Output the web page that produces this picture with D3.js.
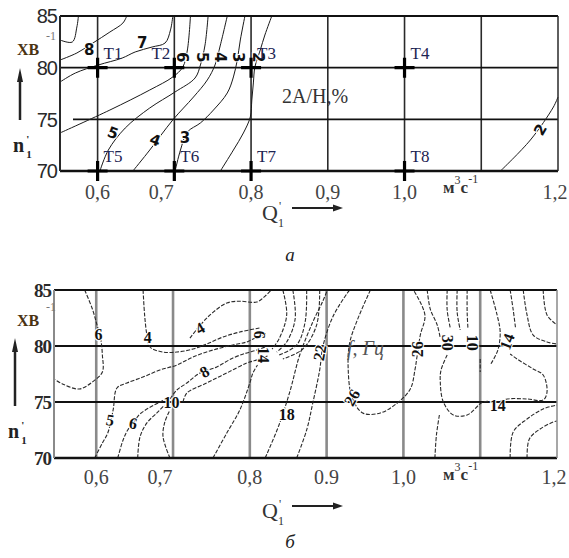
<!DOCTYPE html>
<html>
<head>
<meta charset="utf-8">
<script src="https://cdn.jsdelivr.net/npm/d3@7"></script>
<style>
  body { margin: 0; background: #fff; }
  #chart { width: 569px; height: 558px; }
  .serif { font-family: "Liberation Serif", "DejaVu Serif", serif; }
</style>
</head>
<body>
<div id="chart"></div>
<script>
// axis values shared by both panels
let qTicks = [0.6, 0.7, 0.8, 0.9, 1.0, 1.1, 1.2]
let qTickLabelsA = ["0,6", "0,7", "0,8", "0,9", "1,0", "", "1,2"]
let qTickLabelsB = ["0,6", "0,7", "0,8", "0.9", "1,0", "", "1,2"]
let nTicks = [70, 75, 80, 85]
let nTickLabels = ["70", "75", "80", "85"]

// test points T1..T8 (Q'1, n'1)
let testNames = ["T1", "T2", "T3", "T4", "T5", "T6", "T7", "T8"]
let testQ = [0.6, 0.7, 0.8, 1.0, 0.6, 0.7, 0.8, 1.0]
let testN = [80, 80, 80, 80, 70, 70, 70, 70]

// panel a: 2A/H, % isolines, [Q'1, n'1] pairs
let ampContours = [
    [[0.551, 82.68], [0.567, 82.48], [0.573, 83.94], [0.575, 85]],
    [[0.551, 80.74], [0.573, 81.42], [0.594, 82.39], [0.616, 83.45], [0.633, 84.32], [0.638, 85]],
    [[0.551, 78.61], [0.571, 79.48], [0.601, 80.26], [0.632, 80.93], [0.649, 81.52], [0.671, 82.0], [0.688, 82.39], [0.695, 83.65], [0.698, 85]],
    [[0.551, 73.68], [0.616, 75.9], [0.668, 77.84], [0.698, 79.1], [0.711, 80.06], [0.717, 81.71], [0.721, 85]],
    [[0.603, 70], [0.614, 72.03], [0.636, 74.16], [0.668, 76.1], [0.701, 77.65], [0.727, 79.0], [0.734, 80.26], [0.74, 82.19], [0.744, 85]],
    [[0.646, 70], [0.668, 72.03], [0.698, 74.94], [0.725, 77.16], [0.743, 78.81], [0.753, 80.26], [0.76, 82.19], [0.769, 85]],
    [[0.701, 70], [0.708, 72.03], [0.717, 73.77], [0.734, 74.65], [0.751, 75.9], [0.769, 77.55], [0.777, 79.1], [0.782, 80.74], [0.786, 82.68], [0.792, 85]],
    [[0.76, 70], [0.777, 72.03], [0.79, 73.68], [0.799, 75.23], [0.801, 76.87], [0.803, 78.52], [0.805, 80.06], [0.812, 81.71], [0.818, 83.16], [0.827, 85]],
    [[1.125, 70], [1.164, 73.0], [1.194, 76.19], [1.2, 77.16]]
]
let ampLabelText = ["8", "7", "6", "5", "4", "3", "2", "5", "4", "3", "2"]
let ampLabelQ = [0.589, 0.658, 0.71, 0.736, 0.76, 0.783, 0.809, 0.62, 0.675, 0.714, 1.177]
let ampLabelN = [81.7, 82.4, 81.0, 81.0, 81.0, 81.0, 81.0, 73.7, 73.0, 73.2, 74.0]
let ampLabelRot = [0, 0, 90, 90, 90, 90, 90, 20, 20, 0, -60]

// panel б: f, Гц isolines
let freqContours = [
    [[0.585, 85], [0.595, 83.3], [0.601, 81.88], [0.606, 80.54], [0.608, 79.2], [0.608, 77.68], [0.595, 76.79], [0.578, 76.16], [0.556, 76.61], [0.545, 77.05]],
    [[0.661, 85], [0.663, 82.77], [0.666, 80.98], [0.67, 79.91], [0.687, 79.46], [0.705, 79.46], [0.726, 79.73], [0.744, 80.18], [0.765, 80.8], [0.787, 81.25], [0.813, 81.61]],
    [[0.722, 80.71], [0.739, 82.14], [0.752, 83.0], [0.77, 83.84], [0.787, 84.0], [0.809, 83.93], [0.82, 84.46], [0.828, 85]],
    [[0.598, 70], [0.608, 71.34], [0.615, 72.23], [0.622, 74.29], [0.627, 76.25], [0.64, 76.7], [0.661, 77.23], [0.683, 77.86], [0.705, 78.3], [0.726, 79.02], [0.752, 79.64], [0.778, 80.09], [0.796, 80.36], [0.809, 80.8], [0.823, 81.16]],
    [[0.696, 75.27], [0.705, 76.07], [0.718, 76.7], [0.735, 77.59], [0.757, 78.13], [0.778, 78.93], [0.796, 79.38], [0.809, 79.64], [0.823, 80.0]],
    [[0.713, 75.0], [0.718, 75.8], [0.744, 76.7], [0.77, 77.59], [0.796, 78.48], [0.809, 78.75], [0.823, 79.11]],
    [[0.628, 70], [0.635, 71.61], [0.641, 72.5], [0.648, 73.1], [0.657, 73.93], [0.683, 75.0], [0.696, 75.4]],
    [[0.654, 70], [0.657, 71.88], [0.666, 73.13], [0.679, 74.02], [0.689, 74.73]],
    [[0.696, 70], [0.687, 71.88], [0.689, 73.13], [0.696, 74.29]],
    [[0.752, 70], [0.77, 72.23], [0.787, 74.29], [0.8, 76.7], [0.804, 77.59], [0.81, 78.3]],
    [[0.82, 70], [0.838, 72.95], [0.852, 75.89], [0.865, 79.2], [0.882, 82.14], [0.895, 84.0], [0.901, 85]],
    [[0.861, 70], [0.874, 72.5], [0.882, 74.91], [0.891, 77.86], [0.895, 79.91], [0.908, 82.59], [0.927, 84.73], [0.93, 85]],
    [[0.957, 85], [0.94, 82.32], [0.93, 80.27], [0.928, 78.13], [0.933, 75.45], [0.947, 74.02], [0.97, 74.02], [0.992, 74.91], [1.009, 76.16], [1.015, 77.86], [1.018, 79.2], [1.022, 80.98], [1.028, 82.77], [1.013, 85]],
    [[0.843, 85], [0.848, 82.77], [0.838, 80.63], [0.829, 79.73]],
    [[0.856, 85], [0.859, 82.41], [0.848, 80.36], [0.835, 79.46]],
    [[0.874, 85], [0.872, 82.14], [0.861, 80.09], [0.838, 79.2]],
    [[0.891, 85], [0.887, 81.88], [0.869, 79.73], [0.843, 78.84]],
    [[1.031, 85], [1.035, 83.3], [1.044, 81.88], [1.048, 80.71]],
    [[1.057, 85], [1.057, 83.21], [1.061, 81.61]],
    [[1.07, 85], [1.07, 83.0], [1.074, 81.43]],
    [[1.083, 85], [1.083, 83.0], [1.084, 81.61]],
    [[1.113, 85], [1.122, 82.77], [1.126, 81.25], [1.123, 79.64], [1.113, 78.3]],
    [[1.1, 78.84], [1.1, 77.68]],
    [[1.057, 79.2], [1.049, 77.86], [1.048, 76.79], [1.052, 75.0], [1.065, 73.84], [1.083, 73.84], [1.104, 75.0], [1.123, 75.0], [1.135, 75.27], [1.161, 75.27], [1.182, 75.18], [1.187, 75.89], [1.182, 77.41], [1.169, 77.95], [1.148, 78.84], [1.139, 79.29]],
    [[1.156, 85], [1.161, 82.77], [1.169, 80.98], [1.187, 80.36], [1.2, 80.18]],
    [[1.182, 85], [1.187, 82.77], [1.2, 81.88]],
    [[1.139, 85], [1.143, 83.21], [1.146, 81.6]],
    [[1.139, 70], [1.143, 72.32], [1.161, 73.48], [1.182, 74.38], [1.2, 74.73]],
    [[1.161, 70], [1.164, 71.7], [1.178, 72.59], [1.195, 73.21], [1.2, 73.3]],
    [[1.041, 70], [1.043, 72.05], [1.047, 73.9]]
]
let freqLabelText = ["6", "4", "4", "5", "6", "8", "10", "6", "14", "18", "22", "26", "26", "30", "10", "14", "14"]
let freqLabelQ = [0.603, 0.667, 0.735, 0.618, 0.648, 0.741, 0.698, 0.813, 0.818, 0.848, 0.891, 0.933, 1.018, 1.058, 1.09, 1.135, 1.123]
let freqLabelN = [81.0, 80.8, 81.6, 73.4, 73.1, 77.7, 75.0, 81.0, 79.2, 73.9, 79.4, 75.4, 79.7, 80.3, 80.3, 80.4, 74.7]
let freqLabelRot = [0, 0, -30, 10, 10, -30, 0, 90, 90, 0, -80, -60, -90, 90, 90, -70, 0]

class ContourPanel {
    constructor(svg, opts) {
        this.svg = svg
        this.opts = opts
        this.initVis()
    }

    initVis() {
        let vis = this
        let o = vis.opts

        vis.x = d3.scaleLinear().domain(o.qDomain).range([o.left, o.right])
        vis.y = d3.scaleLinear().domain([70, 85]).range([o.bottom, o.top])
        vis.g = vis.svg.append("g")

        vis.updateVis()
    }

    updateVis() {
        let vis = this
        let o = vis.opts

        // grid
        vis.g.selectAll(".vgrid")
            .data(qTicks.slice(0, -1))
            .enter().append("line")
            .attr("x1", d => vis.x(d)).attr("x2", d => vis.x(d))
            .attr("y1", o.top).attr("y2", o.bottom)
            .attr("stroke", o.vColor).attr("stroke-width", o.vWidth)

        vis.g.selectAll(".hgrid")
            .data([75, 80])
            .enter().append("line")
            .attr("x1", d => d == 75 ? o.left + o.h75inset : o.left).attr("x2", o.right)
            .attr("y1", d => vis.y(d)).attr("y2", d => vis.y(d))
            .attr("stroke", "#111").attr("stroke-width", o.hWidth)

        // contours
        let line = d3.line()
            .x(d => vis.x(d[0]))
            .y(d => vis.y(d[1]))
            .curve(d3.curveCatmullRom.alpha(0.5))

        vis.g.selectAll(".iso")
            .data(o.contours)
            .enter().append("path")
            .attr("d", line)
            .attr("fill", "none")
            .attr("stroke", o.isoColor)
            .attr("stroke-width", o.isoWidth)
            .attr("stroke-dasharray", o.isoDash)

        // frame
        vis.g.append("line").attr("x1", o.left).attr("x2", o.right).attr("y1", o.top).attr("y2", o.top)
            .attr("stroke", "#111").attr("stroke-width", 2)
        vis.g.append("line").attr("x1", o.left).attr("x2", o.right).attr("y1", o.bottom).attr("y2", o.bottom)
            .attr("stroke", "#111").attr("stroke-width", 2.5)
        vis.g.append("line").attr("x1", o.left).attr("x2", o.left).attr("y1", o.top).attr("y2", o.bottom)
            .attr("stroke", o.vColor).attr("stroke-width", 2)
        vis.g.append("line").attr("x1", o.right).attr("x2", o.right).attr("y1", o.top).attr("y2", o.bottom)
            .attr("stroke", o.vColor).attr("stroke-width", 1.5)

        // isoline labels
        vis.g.selectAll(".isolabel")
            .data(o.labelText)
            .enter().append("text")
            .attr("transform", (d, i) => `translate(${vis.x(o.labelQ[i])},${vis.y(o.labelN[i])}) rotate(${o.labelRot[i]})`)
            .attr("text-anchor", "middle").attr("dy", "0.35em")
            .attr("font-family", o.labelFont).attr("font-weight", "bold")
            .attr("font-size", o.labelSize)
            .attr("fill", "#111")
            .attr("stroke", "#fff").attr("stroke-width", 2).attr("paint-order", "stroke")
            .text(d => d)

        // y tick labels
        vis.g.selectAll(".ytick")
            .data(nTicks)
            .enter().append("text")
            .attr("x", o.left - 3).attr("y", d => vis.y(d)).attr("dy", "0.36em")
            .attr("text-anchor", "end")
            .attr("font-family", o.yFont).attr("font-size", o.ySize).attr("font-weight", o.yWeight)
            .attr("letter-spacing", "-1")
            .attr("fill", "#2a2a2a")
            .text((d, i) => nTickLabels[i])

        // x tick labels
        vis.g.selectAll(".xtick")
            .data(qTicks)
            .enter().append("text")
            .attr("class", "serif")
            .attr("x", d => vis.x(d) - (d == 0.7 ? 13 : 0) - (d == 1.2 ? 3 : 0))
            .attr("y", o.bottom + o.xTickOffset)
            .attr("text-anchor", "middle")
            .attr("font-size", 20).attr("fill", "#444")
            .text((d, i) => o.qLabels[i])

        // units, axis names, arrows
        let u = vis.g.append("text").attr("class", "serif").attr("x", 443).attr("y", o.bottom + 22)
            .attr("font-size", 17).attr("fill", "#333").attr("font-weight", "bold")
        u.append("tspan").text("м")
        u.append("tspan").attr("dy", -9).attr("font-size", 12).attr("font-weight", "normal").text("3")
        u.append("tspan").attr("dy", 9).text("с")
        u.append("tspan").attr("dy", -10).attr("font-size", 12).attr("font-weight", "normal").text("-1")

        let qy = o.bottom + o.qOffset
        let q = vis.g.append("text").attr("class", "serif").attr("x", 262).attr("y", qy)
            .attr("font-size", 22).attr("fill", "#333")
        q.append("tspan").text("Q")
        q.append("tspan").attr("dx", 1).attr("dy", -10).attr("font-size", 12).text("'")
        q.append("tspan").attr("dx", -3).attr("dy", 17).attr("font-size", 12).text("1")
        vis.g.append("line").attr("x1", 292).attr("x2", 336).attr("y1", qy - 12).attr("y2", qy - 12)
            .attr("stroke", "#222").attr("stroke-width", 2)
        vis.g.append("path")
            .attr("d", `M343,${qy - 12} L333,${qy - 15.5} L333,${qy - 8.5} Z`).attr("fill", "#222")

        let h = vis.g.append("text").attr("class", "serif").attr("x", o.xvX).attr("y", o.xvY)
            .attr("font-size", 16).attr("font-weight", "bold").attr("fill", "#4a3312")
        h.text("ХВ")
        vis.g.append("text").attr("class", "serif").attr("x", 46).attr("y", o.xvY - 15)
            .attr("font-size", 12).attr("fill", "#777").text("-1")

        vis.g.append("line").attr("x1", o.arrowX).attr("x2", o.arrowX)
            .attr("y1", o.arrowTop + 10).attr("y2", o.arrowBottom)
            .attr("stroke", "#222").attr("stroke-width", 2.5)
        vis.g.append("path")
            .attr("d", `M${o.arrowX},${o.arrowTop} L${o.arrowX - 3},${o.arrowTop + 14} L${o.arrowX + 3},${o.arrowTop + 14} Z`)
            .attr("fill", "#222")

        let n = vis.g.append("text").attr("class", "serif").attr("x", o.nX).attr("y", o.nY)
            .attr("font-size", 20).attr("font-weight", "bold").attr("fill", "#222")
        n.append("tspan").text("n")
        n.append("tspan").attr("dx", 2).attr("dy", -9).attr("font-size", 11).text("'")
        n.append("tspan").attr("dx", -3).attr("dy", 15).attr("font-size", 11).text("1")

        vis.g.append("text").attr("class", "serif")
            .attr("x", 290).attr("y", o.bottom + o.letterOffset)
            .attr("text-anchor", "middle")
            .attr("font-size", 19).attr("font-style", "italic").attr("fill", "#222")
            .text(o.letter)
    }

    drawTestPoints() {
        let vis = this
        let pts = testNames.map((d, i) => ({name: d, q: testQ[i], n: testN[i]}))

        let g = vis.g.selectAll(".tp")
            .data(pts)
            .enter().append("g")
            .attr("transform", d => `translate(${vis.x(d.q)},${vis.y(d.n)})`)

        g.append("path").attr("d", "M-10,0 H10 M0,-10 V10")
            .attr("stroke", "#000").attr("stroke-width", 3.2)
        g.append("text").attr("class", "serif")
            .attr("x", d => d.name == "T2" ? -4 : 6).attr("y", -9)
            .attr("text-anchor", d => d.name == "T2" ? "end" : "start")
            .attr("font-size", 17).attr("fill", "#1d2452")
            .text(d => d.name)
    }
}

let svg = d3.select("#chart").append("svg")
    .attr("width", 569).attr("height", 558)
svg.append("rect").attr("width", 569).attr("height", 558).attr("fill", "#fff")

let panelA = new ContourPanel(svg, {
    qDomain: [0.551, 1.2], left: 60, right: 558, top: 16, bottom: 171,
    vColor: "#2a2a2a", vWidth: 1.6, hWidth: 1.6, h75inset: 13,
    contours: ampContours, isoColor: "#1a1a1a", isoWidth: 1, isoDash: null,
    labelText: ampLabelText, labelQ: ampLabelQ, labelN: ampLabelN, labelRot: ampLabelRot,
    labelFont: "DejaVu Sans", labelSize: 15,
    yFont: "Liberation Sans", ySize: 20, yWeight: "normal",
    qLabels: qTickLabelsA, xTickOffset: 28, qOffset: 49, letterOffset: 90, letter: "а",
    xvX: 17, xvY: 55, arrowX: 20, arrowTop: 68, arrowBottom: 120, nX: 13, nY: 152
})
panelA.drawTestPoints()
panelA.g.append("text").attr("class", "serif")
    .attr("x", 282).attr("y", 103)
    .attr("font-size", 20).attr("fill", "#333")
    .text("2A/H,%")

let panelB = new ContourPanel(svg, {
    qDomain: [0.545, 1.2], left: 54, right: 557, top: 290, bottom: 458,
    vColor: "#8a8a8a", vWidth: 2.6, hWidth: 2, h75inset: 0,
    contours: freqContours, isoColor: "#2a2a2a", isoWidth: 1.1, isoDash: "4,1.6",
    labelText: freqLabelText, labelQ: freqLabelQ, labelN: freqLabelN, labelRot: freqLabelRot,
    labelFont: "Liberation Serif", labelSize: 16,
    yFont: "Liberation Serif", ySize: 19, yWeight: "bold",
    qLabels: qTickLabelsB, xTickOffset: 26, qOffset: 60, letterOffset: 90, letter: "б",
    xvX: 17, xvY: 326, arrowX: 15, arrowTop: 338, arrowBottom: 406, nX: 8, nY: 438
})
panelB.g.append("text").attr("class", "serif")
    .attr("x", 347).attr("y", 355)
    .attr("font-size", 20).attr("font-style", "italic").attr("fill", "#555")
    .text("f, Гц")
</script>
</body>
</html>
